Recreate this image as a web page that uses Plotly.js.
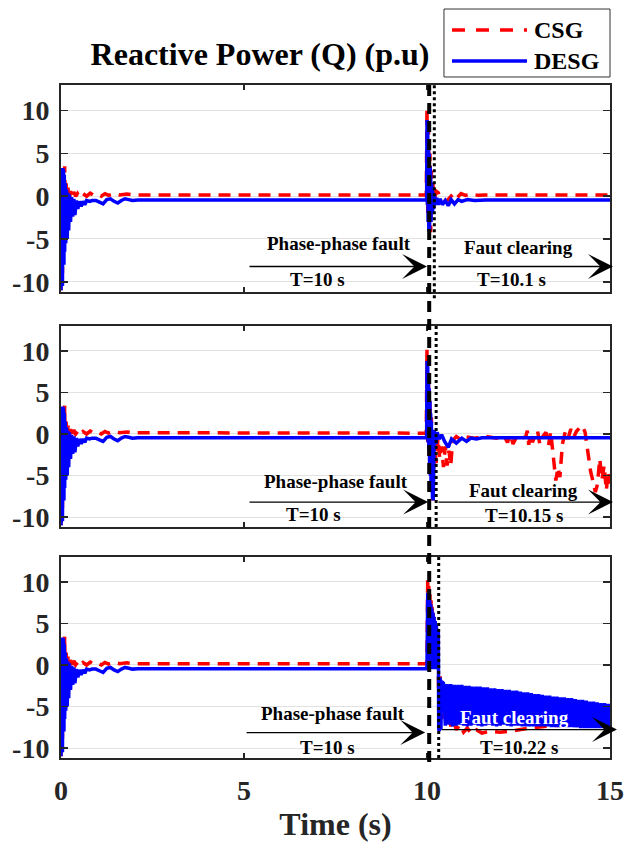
<!DOCTYPE html>
<html>
<head>
<meta charset="utf-8">
<script src="https://cdn.plot.ly/plotly-3.0.1.min.js"></script>
<style>html,body{margin:0;padding:0;background:#fff;}#chart{width:629px;height:842px;}</style>
</head>
<body>
<div id="chart"></div>
<script>
// ---------- DATA ----------
// start-up transient (shared by all three cases)
const tStartCSG = [0,0.02,0.04,0.06,0.08,0.10,0.12,0.14,0.16,0.19,
  0.22,0.26,0.30,0.35,0.40,0.45,0.50,0.60,0.70,0.80,
  0.90,1.00,1.10,1.20,1.30,1.45,1.60,1.80,2.00,2.40];
const qStartCSG = [-11.0,2.0,-9.0,3.0,-6.0,3.5,-3.0,1.5,-1.5,1.0,
  -0.5,0.6,-0.2,0.5,0.0,0.3,-0.1,0.3,0.0,0.35,
  0.1,0.2,0.0,0.3,0.1,0.3,0.15,0.25,0.15,0.15];
const tStartDESG = [0,0.01,0.02,0.03,0.04,0.05,0.06,0.07,0.08,0.09,
  0.10,0.115,0.13,0.15,0.17,0.19,0.21,0.23,0.26,0.29,
  0.32,0.35,0.38,0.42,0.46,0.50,0.55,0.60,0.65,0.70,
  0.78,0.85,0.95,1.05,1.15,1.25,1.35,1.45,1.55,1.65,
  1.75,1.85,1.95,2.10,2.40,2.70];
const qStartDESG = [-11.0,3.3,-11.0,3.3,-10.5,3.2,-9.5,3.0,-8.0,2.5,
  -6.5,1.5,-5.5,0.8,-5.0,0.4,-4.0,0.2,-3.0,-0.1,
  -2.4,-0.3,-2.2,-0.5,-1.5,-0.6,-1.2,-0.6,-1.0,-0.5,
  -0.6,-0.5,-0.5,-0.7,-0.9,-0.4,-0.3,-0.6,-0.8,-0.5,
  -0.3,-0.4,-0.5,-0.45,-0.4,-0.45];

// Case 1: fault clearing at T=10.1 s
const tFault1CSG = [9.98,10.00,10.02,10.04,10.06,10.08,10.10,10.12,10.14,10.16,
  10.20,10.25,10.31,10.36,10.44,10.53,10.62,10.72,10.82,10.93,
  11.05,11.20,11.40,11.60,15.00];
const qFault1CSG = [0.15,10.3,-2.0,8.0,-3.0,5.0,-4.2,3.0,-2.0,1.5,
  -0.5,0.6,0.4,-0.2,-0.3,-0.6,-0.2,0.3,-0.2,0.3,
  0.1,0.25,0.1,0.15,0.15];
const tFault1DESG = [9.99,10.00,10.01,10.02,10.03,10.04,10.05,10.06,10.07,10.08,
  10.09,10.10,10.11,10.12,10.13,10.14,10.15,10.16,10.18,10.20,
  10.23,10.27,10.31,10.36,10.42,10.50,10.58,10.66,10.75,10.85,
  10.95,11.10,11.30,11.60,15.00];
const qFault1DESG = [-0.45,8.9,-1.0,8.0,-3.0,6.5,-4.1,5.0,-4.0,3.5,
  -3.5,2.5,-3.0,1.5,-2.5,1.0,-2.0,0.5,-1.5,0.2,
  -1.0,-0.2,-1.0,-0.3,-1.0,-0.5,-1.1,-0.4,-0.9,-0.4,
  -0.6,-0.4,-0.5,-0.45,-0.45];

// Case 2: fault clearing at T=10.15 s
const tFault2CSG = [9.98,10.00,10.02,10.04,10.06,10.08,10.10,10.12,10.14,10.16,
  10.20,10.25,10.30,10.35,10.40,10.45,10.50,10.55,10.60,10.65,
  10.70,10.80,10.90,11.00,11.30,11.60,11.90,12.10,12.20,12.28,
  12.35,12.45,12.55,12.70,12.74,12.78,12.83,12.88,12.95,13.02,
  13.08,13.15,13.25,13.32,13.38,13.45,13.52,13.58,13.63,13.70,
  13.78,13.85,13.93,14.00,14.08,14.18,14.25,14.32,14.40,14.47,
  14.54,14.60,14.66,14.72,14.78,14.84,14.90,14.95,15.00];
const qFault2CSG = [0.1,10.2,-1.0,7.0,-3.0,4.0,-5.0,2.0,-6.5,-8.0,
  -1.0,-3.5,-0.5,-3.0,-1.5,-4.0,-1.5,-3.8,-2.0,-3.8,
  -0.8,-0.3,-0.6,-0.3,-0.5,-0.3,-0.5,-0.2,-1.0,0.0,
  -1.2,-0.3,-0.6,-0.3,0.4,-1.3,0.2,-1.0,-0.2,0.4,
  -1.2,-0.4,0.2,-1.4,0.3,-2.5,-5.6,-4.0,-5.2,-1.2,
  0.3,-0.6,0.6,-0.5,0.3,0.8,1.0,0.2,-2.5,-4.5,
  -5.8,-7.0,-6.0,-3.0,-5.5,-3.8,-6.8,-4.5,-6.0];
const tFault2DESG = [9.99,10.00,10.01,10.02,10.03,10.04,10.05,10.06,10.07,10.08,
  10.09,10.10,10.11,10.12,10.13,10.14,10.15,10.16,10.17,
  10.20,10.24,10.28,10.33,10.40,10.48,10.58,10.67,10.80,10.95,
  11.08,11.20,11.35,11.50,15.00];
const qFault2DESG = [-0.45,8.8,0.0,8.0,-1.0,7.0,-2.0,5.5,-3.5,4.0,
  -5.0,2.5,-6.0,1.5,-7.0,0.5,-7.8,0.0,-8.0,
  0.5,-1.2,0.2,-0.6,-0.1,-0.9,-1.6,-0.6,-1.1,-0.5,
  -0.9,-0.5,-0.6,-0.45,-0.45];

// Case 3: fault clearing at T=10.22 s
const tFault3CSG = [9.98,10.00,10.02,10.035,10.05,10.065,10.08,10.095,10.11,10.125,
  10.14,10.155,10.17,10.185,10.20,10.215,10.23,10.245,10.26,10.275,
  10.29,10.31,10.33,10.36,10.39,10.42,10.46,10.50,10.55,10.60,
  10.65,10.70,10.80,10.90,11.00,11.10,11.20,11.35,11.50,11.70,
  12.00,12.40,12.80,13.40,14.20,15.00];
const qFault3CSG = [0.15,0.5,10.5,0.0,9.5,0.0,8.5,0.0,7.8,0.0,
  7.0,0.0,6.3,0.0,5.6,0.0,5.0,0.0,4.5,0.0,
  4.0,-1.0,-6.0,-1.2,-5.5,-3.0,-6.5,-4.5,-7.0,-5.8,
  -7.4,-6.3,-7.8,-7.2,-8.1,-7.6,-8.2,-7.8,-8.2,-8.0,
  -8.1,-7.9,-7.6,-7.3,-7.2,-7.1];
const tFault3DESG = [9.99,10.00,10.02,10.03,10.045,10.06,10.075,10.09,10.105,10.12,
  10.135,10.15,10.165,10.18,10.195,10.21,10.225,10.24,10.255,10.27,
  10.285,10.30,10.31,10.32,10.33,10.34,10.36,10.38,10.40,
  10.45,10.50,10.55,10.60,10.65,10.70,10.75,10.80,10.85,10.90,
  10.95,11.00,11.05,11.10,11.15,11.20,11.25,11.30,11.35,11.40,
  11.45,11.50,11.55,11.60,11.65,11.70,11.75,11.80,11.85,11.90,
  11.95,12.00,12.05,12.10,12.15,12.20,12.25,12.30,12.35,12.40,
  12.45,12.50,12.55,12.60,12.65,12.70,12.75,12.80,12.85,12.90,
  12.95,13.00,13.05,13.10,13.15,13.20,13.25,13.30,13.35,13.40,
  13.45,13.50,13.55,13.60,13.65,13.70,13.75,13.80,13.85,13.90,
  13.95,14.00,14.05,14.10,14.15,14.20,14.25,14.30,14.35,14.40,
  14.45,14.50,14.55,14.60,14.65,14.70,14.75,14.80,14.85,14.90,
  14.95,15.00];
const qFault3DESG = [-0.45,0.0,8.7,-0.5,8.3,-0.5,7.8,-0.5,7.3,-0.5,
  6.8,-0.5,6.3,-0.5,5.8,-0.5,5.3,-0.5,4.8,-0.5,
  4.3,-0.5,4.0,-7.9,-0.7,-7.8,-1.5,-7.8,-2.0,
  -2.2,-7.3,-2.3,-7.2,-2.3,-7.4,-2.4,-7.3,-2.4,-7.2,
  -2.4,-7.3,-2.5,-7.4,-2.5,-7.3,-2.6,-7.2,-2.6,-7.3,
  -2.6,-7.4,-2.7,-7.3,-2.7,-7.2,-2.8,-7.3,-2.8,-7.4,
  -2.9,-7.3,-2.9,-7.2,-3.0,-7.3,-3.0,-7.4,-3.1,-7.3,
  -3.1,-7.3,-3.2,-7.4,-3.3,-7.4,-3.3,-7.4,-3.4,-7.4,
  -3.5,-7.4,-3.5,-7.4,-3.6,-7.4,-3.7,-7.4,-3.7,-7.5,
  -3.8,-7.5,-3.8,-7.5,-3.9,-7.5,-3.9,-7.5,-4.0,-7.5,
  -4.0,-7.5,-4.1,-7.5,-4.2,-7.6,-4.2,-7.6,-4.3,-7.6,
  -4.4,-7.6,-4.4,-7.6,-4.5,-7.6,-4.6,-7.6,-4.6,-7.6,
  -4.7,-7.6];

// event markers and labels
const faultTime = 10.06;                       // dashed marker (as drawn)
const clearTimes = [10.2, 10.25, 10.32];       // dotted markers (as drawn)
const clearLabels = ['T=10.1 s', 'T=10.15 s', 'T=10.22 s'];
const faultLabel = 'T=10 s';
const seriesNames = ['CSG', 'DESG'];
const xTicks = [0, 5, 10, 15];
const yTicks = [-10, -5, 0, 5, 10];
const yTickText = ['-10', '-5', '0', '5', '10'];

// ---------- FIGURE ----------
const SERIF = 'Liberation Serif, Times New Roman, serif';
const RED = '#ff0000', BLUE = '#0000ff', AX = '#262626';

const csgT = [tFault1CSG, tFault2CSG, tFault3CSG];
const csgQ = [qFault1CSG, qFault2CSG, qFault3CSG];
const desgT = [tFault1DESG, tFault2DESG, tFault3DESG];
const desgQ = [qFault1DESG, qFault2DESG, qFault3DESG];

const traces = [];
for (let i = 0; i < 3; i++) {
  const xa = i === 0 ? 'x' : 'x' + (i + 1);
  const ya = i === 0 ? 'y' : 'y' + (i + 1);
  traces.push({
    type: 'scatter', mode: 'lines', name: seriesNames[0], showlegend: false,
    x: tStartCSG.concat(csgT[i]), y: qStartCSG.concat(csgQ[i]),
    xaxis: xa, yaxis: ya,
    line: {color: RED, width: 3.5, dash: '12px,8px'}
  });
  traces.push({
    type: 'scatter', mode: 'lines', name: seriesNames[1], showlegend: false,
    x: tStartDESG.concat(desgT[i]), y: qStartDESG.concat(desgQ[i]),
    xaxis: xa, yaxis: ya,
    line: {color: BLUE, width: 3.5}
  });
}

const tickFont = {family: SERIF, size: 28, color: AX, weight: 'bold'};
function xAx(anchor, labels) {
  const a = {
    anchor: anchor, domain: [0, 1], range: [0, 15], tickvals: xTicks,
    ticks: 'inside', ticklen: 5, tickwidth: 1.5, tickcolor: AX,
    showline: true, linecolor: AX, linewidth: 2, mirror: 'ticks',
    showgrid: false, zeroline: false, showticklabels: labels,
    tickfont: tickFont, ticklabelstandoff: 6
  };
  if (labels) a.title = {text: 'Time (s)', font: {family: SERIF, size: 32, color: AX, weight: 'bold'}, standoff: 10};
  return a;
}
function yAx(anchor, dom) {
  return {
    anchor: anchor, domain: dom, range: [-11.2, 13], tickvals: yTicks, ticktext: yTickText,
    ticks: 'inside', ticklen: 7, tickwidth: 1.5, tickcolor: AX,
    showline: true, linecolor: AX, linewidth: 2, mirror: 'ticks',
    showgrid: true, gridcolor: '#e2e2e2', gridwidth: 1, zeroline: false,
    tickfont: tickFont, ticklabelstandoff: 4
  };
}

const annFont = {family: SERIF, size: 19, color: '#000', weight: 'bold'};
const panelText = [
  {pf: [7.6, -5.53], tf: [7.02, -9.75], fc: [12.49, -6.0], tc: [12.32, -9.75],
   la: [5.11, 10.0, -8.22], ra: [10.27, 15.08, -8.22], fcColor: '#000'},
  {pf: [7.51, -5.7], tf: [6.91, -9.66], fc: [12.65, -6.8], tc: [12.65, -9.8],
   la: [5.11, 10.03, -8.2], ra: [10.27, 15.08, -8.2], fcColor: '#000'},
  {pf: [7.43, -5.87], tf: [7.27, -9.94], fc: [12.38, -6.35], tc: [12.51, -9.94],
   la: [5.03, 9.95, -8.14], ra: [10.36, 15.19, -7.78], fcColor: '#ffffff'}
];
const annotations = [];
panelText.forEach((p, i) => {
  const xr = i === 0 ? 'x' : 'x' + (i + 1);
  const yr = i === 0 ? 'y' : 'y' + (i + 1);
  const txt = (s, xy, col) => ({text: s, x: xy[0], y: xy[1], xref: xr, yref: yr,
    showarrow: false, xanchor: 'center', yanchor: 'middle',
    font: Object.assign({}, annFont, {color: col || '#000'})});
  annotations.push(txt('Phase-phase fault', p.pf));
  annotations.push(txt(faultLabel, p.tf));
  annotations.push(txt('Faut clearing', p.fc, p.fcColor));
  annotations.push(txt(clearLabels[i], p.tc));
  [p.la, p.ra].forEach(a => annotations.push({
    text: '', x: a[1], y: a[2], ax: a[0], ay: a[2], xref: xr, yref: yr, axref: xr, ayref: yr,
    showarrow: true, arrowhead: 3, arrowsize: 3.2, arrowwidth: 1.3, arrowcolor: '#000',
    standoff: 0, startstandoff: 0
  }));
});
// custom legend text
annotations.push({text: seriesNames[0], xref: 'paper', yref: 'paper', x: 0.8574, y: 1.0817,
  xanchor: 'left', yanchor: 'middle', showarrow: false, font: {family: SERIF, size: 24, color: '#000', weight: 'bold'}});
annotations.push({text: seriesNames[1], xref: 'paper', yref: 'paper', x: 0.8574, y: 1.0357,
  xanchor: 'left', yanchor: 'middle', showarrow: false, font: {family: SERIF, size: 24, color: '#000', weight: 'bold'}});

const shapes = [
  {type: 'line', xref: 'x', yref: 'paper', x0: faultTime, x1: faultTime, y0: -0.006, y1: 1.008,
   line: {color: '#000', width: 4, dash: '11px,7px'}},
  {type: 'line', xref: 'x', yref: 'y domain', x0: clearTimes[0], x1: clearTimes[0], y0: -0.03, y1: 1,
   line: {color: '#000', width: 3, dash: 'dot'}},
  {type: 'line', xref: 'x2', yref: 'y2 domain', x0: clearTimes[1], x1: clearTimes[1], y0: 0, y1: 1,
   line: {color: '#000', width: 3, dash: 'dot'}},
  {type: 'line', xref: 'x3', yref: 'y3 domain', x0: clearTimes[2], x1: clearTimes[2], y0: 0, y1: 1,
   line: {color: '#000', width: 3, dash: 'dot'}},
  // legend box and samples
  {type: 'rect', xref: 'paper', yref: 'paper', x0: 0.6976, x1: 1.0, y0: 1.0119, y1: 1.1129,
   line: {color: '#333', width: 1}, fillcolor: '#fff'},
  {type: 'line', xref: 'paper', yref: 'paper', x0: 0.7122, x1: 0.8488, y0: 1.0817, y1: 1.0817,
   line: {color: RED, width: 3.5, dash: '13px,11px'}},
  {type: 'line', xref: 'paper', yref: 'paper', x0: 0.7122, x1: 0.8488, y0: 1.0357, y1: 1.0357,
   line: {color: BLUE, width: 3.5}}
];

const layout = {
  width: 629, height: 842,
  margin: {l: 61, r: 19, t: 85, b: 84, autoexpand: false},
  paper_bgcolor: '#fff', plot_bgcolor: '#fff',
  showlegend: false,
  title: {text: 'Reactive Power (Q) (p.u)', font: {family: SERIF, size: 32, color: '#000', weight: 'bold'},
          xref: 'container', yref: 'container', x: 0.4134, y: 0.9359, xanchor: 'center', yanchor: 'middle'},
  xaxis: xAx('y', false), xaxis2: xAx('y2', false), xaxis3: xAx('y3', true),
  yaxis: yAx('x', [0.6924, 1]), yaxis2: yAx('x2', [0.3432, 0.6419]), yaxis3: yAx('x3', [0, 0.2987]),
  annotations: annotations, shapes: shapes
};

Plotly.newPlot('chart', traces, layout, {displayModeBar: false, staticPlot: true});
</script>
</body>
</html>
